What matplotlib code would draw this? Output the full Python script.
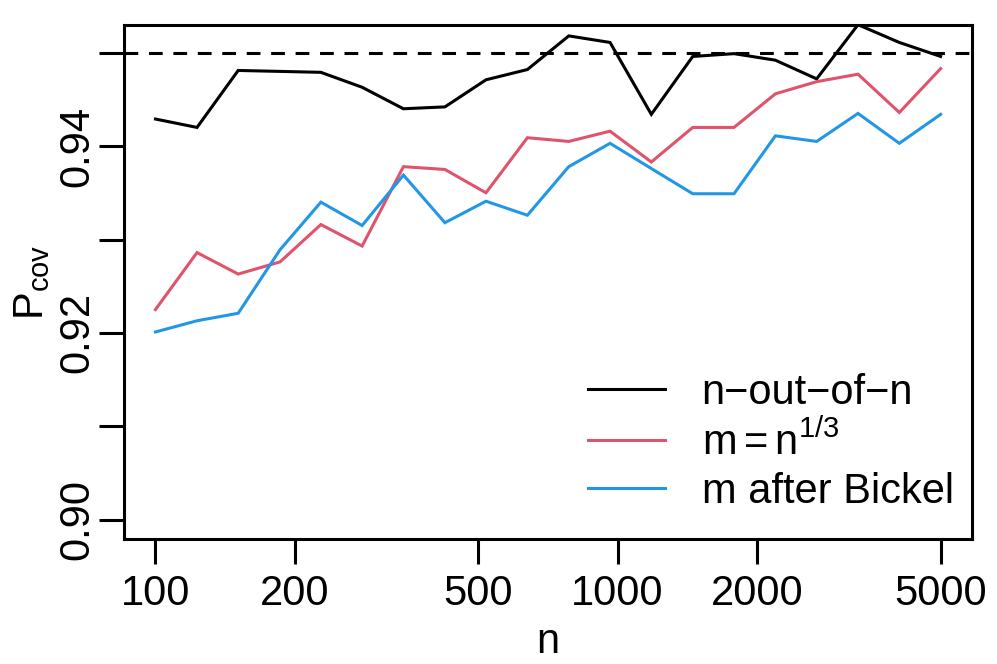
import numpy as np
import matplotlib
matplotlib.use("Agg")
import matplotlib.pyplot as plt

plt.rcParams["font.family"] = ["Liberation Sans", "DejaVu Sans"]
plt.rcParams["mathtext.fontset"] = "custom"
plt.rcParams["mathtext.rm"] = "Liberation Sans"
plt.rcParams["mathtext.it"] = "Liberation Sans:italic"

# sample sizes (log-spaced, 100 .. 5000)
n = [100, 123, 151, 186, 228, 280, 344, 423, 519, 638,
     784, 963, 1183, 1454, 1786, 2195, 2696, 3313, 4070, 5000]

cov_full = [0.9429, 0.9420, 0.9481, 0.9480, 0.9479, 0.9463, 0.9440, 0.9442, 0.9471, 0.9482,
            0.9518, 0.9511, 0.9434, 0.9496, 0.9499, 0.9492, 0.9472, 0.9530, 0.9511, 0.9496]
cov_cuberoot = [0.9225, 0.9286, 0.9263, 0.9276, 0.9316, 0.9293, 0.9378, 0.9375, 0.9350, 0.9409,
                0.9405, 0.9416, 0.9383, 0.9420, 0.9420, 0.9456, 0.9469, 0.9477, 0.9436, 0.9483]
cov_bickel = [0.9201, 0.9213, 0.9221, 0.9289, 0.9340, 0.9315, 0.9369, 0.9318, 0.9341, 0.9326,
              0.9378, 0.9403, 0.9376, 0.9349, 0.9349, 0.9411, 0.9405, 0.9435, 0.9403, 0.9434]

labels = ["n\u2212out\u2212of\u2212n", r"$\mathrm{m = n}^{\mathrm{1/3}}$", "m after Bickel"]
colors = ["black", "#DF536B", "#2297E6"]
nominal = 0.95

xticks = [100, 200, 500, 1000, 2000, 5000]
yticks = [0.90, 0.91, 0.92, 0.93, 0.94, 0.95]
ytick_labels = ["0.90", "", "0.92", "", "0.94", ""]

fig = plt.figure(figsize=(9.97, 6.64), dpi=100)
ax = fig.add_axes([0.1244, 0.1878, 0.8506, 0.7750])

lw = 2.2
for y, lab, c in zip([cov_full, cov_cuberoot, cov_bickel], labels, colors):
    ax.plot(n, y, color=c, lw=lw, label=lab, solid_joinstyle="miter")
ax.axhline(nominal, color="black", lw=lw, ls=(0, (4.5, 3.5)))

ax.set_xscale("log")
ax.set_xlim(85.5, 5848)
ax.set_ylim(0.8979, 0.9530)
ax.set_xticks(xticks)
ax.set_xticklabels([str(t) for t in xticks])
ax.xaxis.set_minor_locator(matplotlib.ticker.NullLocator())
ax.set_yticks(yticks)
ax.set_yticklabels(ytick_labels, rotation=90, va="center")

ax.tick_params(axis="both", length=18, width=2.2, labelsize=30, direction="out")
ax.tick_params(axis="x", pad=7)
ax.tick_params(axis="y", pad=1)
for s in ax.spines.values():
    s.set_linewidth(2.2)

ax.set_xlabel("n", fontsize=30, labelpad=6)
ax.set_ylabel(r"$\mathrm{P_{cov}}$", fontsize=30, labelpad=4)

ax.legend(loc="lower right", frameon=False, fontsize=30, handlelength=1.85,
          handletextpad=0.89, labelspacing=0.2, borderaxespad=0.0,
          bbox_to_anchor=(0.998, 0.021))

fig.savefig("out.png", dpi=100)
